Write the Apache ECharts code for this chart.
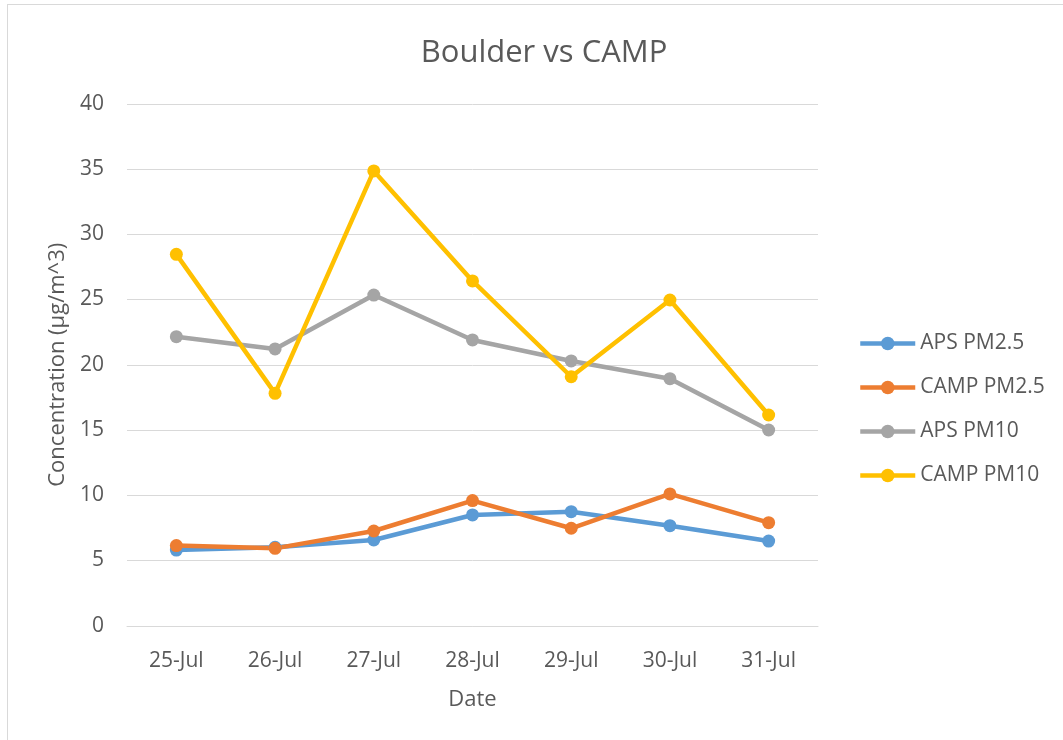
<!DOCTYPE html>
<html><head><meta charset="utf-8">
<script src="https://cdn.jsdelivr.net/npm/echarts@6/dist/echarts.min.js"></script>
<style>
html,body{margin:0;padding:0;background:#fff;}
#frame{position:absolute;left:7px;top:4px;width:1070px;height:760px;border:1px solid #d9d9d9;box-sizing:border-box;}
#c{position:absolute;left:0;top:0;width:1063px;height:740px;}
</style></head>
<body>
<div id="frame"></div>
<div id="c"></div>
<script>
const categories = ['25-Jul','26-Jul','27-Jul','28-Jul','29-Jul','30-Jul','31-Jul'];
const apsPM25  = [5.80, 6.01, 6.57, 8.49, 8.74, 7.67, 6.49];
const campPM25 = [6.14, 5.93, 7.26, 9.59, 7.47, 10.10, 7.90];
const apsPM10  = [22.15, 21.21, 25.34, 21.90, 20.29, 18.93, 15.00];
const campPM10 = [28.46, 17.81, 34.85, 26.42, 19.08, 24.96, 16.15];
const seriesNames = ['APS PM2.5','CAMP PM2.5','APS PM10','CAMP PM10'];
const colors = ['#5B9BD5','#ED7D31','#A5A5A5','#FFC000'];
const seriesData = [apsPM25, campPM25, apsPM10, campPM10];

const font = '"Open Sans", sans-serif';
const chart = echarts.init(document.getElementById('c'), null, {renderer:'canvas'});
chart.setOption({
  animation:false,
  backgroundColor:'transparent',
  color: colors,
  textStyle:{fontFamily:font},
  title:{
    text:'Boulder vs CAMP', left:539, textAlign:'center', top:33,
    textStyle:{fontFamily:font, fontSize:31, fontWeight:'normal', color:'#595959'}
  },
  legend:{
    orient:'vertical', left:853, top:328, itemGap:23,
    itemWidth:55, itemHeight:17,
    lineStyle:{width:4.5},
    textStyle:{fontFamily:font, fontSize:21, color:'#595959'},
    data: seriesNames
  },
  grid:{left:127, right:245, top:103.75, bottom:114.25, containLabel:false},
  xAxis:{
    type:'category', data:categories, boundaryGap:true,
    name:'Date', nameLocation:'middle', nameGap:63,
    nameTextStyle:{fontFamily:font, fontSize:22, color:'#595959'},
    axisLine:{lineStyle:{color:'#d9d9d9', width:1}},
    axisTick:{show:false},
    axisLabel:{fontFamily:font, fontSize:21, color:'#595959', margin:25}
  },
  yAxis:{
    type:'value', min:0, max:40, interval:5,
    name:'Concentration (µg/m^3)', nameLocation:'middle', nameGap:58, nameRotate:90,
    nameTextStyle:{fontFamily:font, fontSize:22, color:'#595959'},
    axisLine:{show:false}, axisTick:{show:false},
    axisLabel:{fontFamily:font, fontSize:21, color:'#595959', margin:23},
    splitLine:{lineStyle:{color:'#d9d9d9', width:1}}
  },
  series: seriesNames.map((n,i)=>({
    name:n, type:'line', data:seriesData[i],
    symbol:'circle', symbolSize:13,
    lineStyle:{width:4.5, color:colors[i]},
    itemStyle:{color:colors[i]}
  }))
});
</script>
</body></html>
